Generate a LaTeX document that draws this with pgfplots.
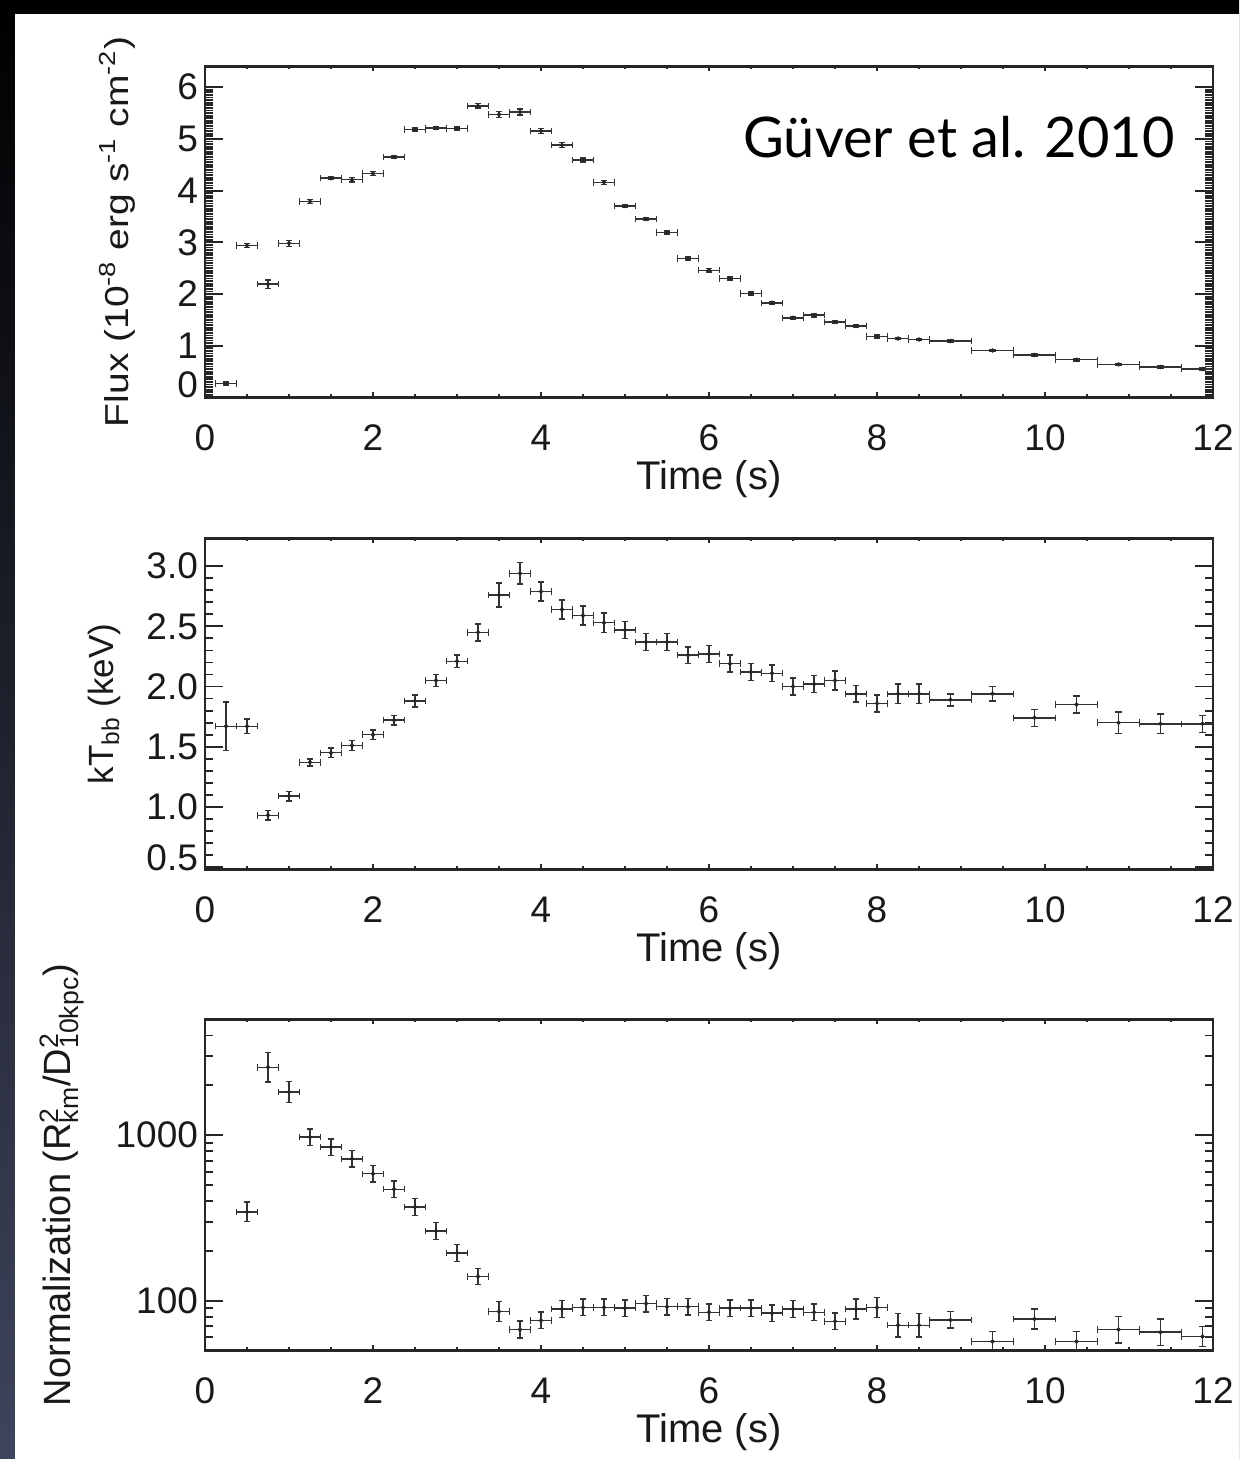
\documentclass[border=0pt]{standalone}
\usepackage{pgfplots}
\pgfplotsset{compat=1.18}
\usepackage{pgfplotstable}
\usepackage{graphicx}
\usepackage{fontspec}
\setmainfont{Liberation Sans}
\newfontfamily\gill{Lato}
\definecolor{slate}{RGB}{62,68,92}

\pgfplotstableread{
t dt v dv
0.25 0.125 0.27 0.03
0.5 0.125 2.94 0.04
0.75 0.125 2.19 0.08
1.0 0.125 2.98 0.06
1.25 0.125 3.79 0.04
1.5 0.125 4.24 0.03
1.75 0.125 4.21 0.04
2.0 0.125 4.33 0.04
2.25 0.125 4.65 0.03
2.5 0.125 5.18 0.03
2.75 0.125 5.21 0.03
3.0 0.125 5.20 0.03
3.25 0.125 5.64 0.04
3.5 0.125 5.47 0.06
3.75 0.125 5.52 0.06
4.0 0.125 5.15 0.05
4.25 0.125 4.88 0.05
4.5 0.125 4.59 0.04
4.75 0.125 4.16 0.04
5.0 0.125 3.70 0.03
5.25 0.125 3.45 0.03
5.5 0.125 3.19 0.03
5.75 0.125 2.69 0.03
6.0 0.125 2.46 0.03
6.25 0.125 2.30 0.03
6.5 0.125 2.01 0.03
6.75 0.125 1.83 0.03
7.0 0.125 1.54 0.03
7.25 0.125 1.59 0.03
7.5 0.125 1.46 0.03
7.75 0.125 1.38 0.03
8.0 0.125 1.18 0.03
8.25 0.125 1.14 0.02
8.5 0.125 1.12 0.02
8.875 0.25 1.09 0.02
9.375 0.25 0.91 0.02
9.875 0.25 0.82 0.02
10.375 0.25 0.73 0.02
10.875 0.25 0.64 0.02
11.375 0.25 0.59 0.02
11.875 0.25 0.55 0.02
}\fluxdata

\pgfplotstableread{
t dt v dv
0.25 0.125 1.67 0.20
0.5 0.125 1.67 0.06
0.75 0.125 0.93 0.04
1.0 0.125 1.09 0.04
1.25 0.125 1.37 0.03
1.5 0.125 1.45 0.04
1.75 0.125 1.51 0.04
2.0 0.125 1.60 0.04
2.25 0.125 1.72 0.04
2.5 0.125 1.88 0.05
2.75 0.125 2.05 0.05
3.0 0.125 2.21 0.05
3.25 0.125 2.45 0.07
3.5 0.125 2.76 0.10
3.75 0.125 2.94 0.09
4.0 0.125 2.79 0.08
4.25 0.125 2.64 0.08
4.5 0.125 2.59 0.08
4.75 0.125 2.53 0.08
5.0 0.125 2.47 0.07
5.25 0.125 2.37 0.07
5.5 0.125 2.37 0.07
5.75 0.125 2.26 0.07
6.0 0.125 2.27 0.07
6.25 0.125 2.19 0.07
6.5 0.125 2.12 0.07
6.75 0.125 2.11 0.07
7.0 0.125 2.00 0.07
7.25 0.125 2.02 0.07
7.5 0.125 2.05 0.08
7.75 0.125 1.94 0.07
8.0 0.125 1.86 0.07
8.25 0.125 1.94 0.08
8.5 0.125 1.94 0.08
8.875 0.25 1.89 0.05
9.375 0.25 1.94 0.06
9.875 0.25 1.74 0.07
10.375 0.25 1.85 0.07
10.875 0.25 1.70 0.09
11.375 0.25 1.69 0.08
11.875 0.25 1.69 0.07
}\ktdata

\pgfplotstableread{
t dt v ep em
0.5 0.125 344 51 44
0.75 0.125 2570 592 480
1.0 0.125 1824 285 246
1.25 0.125 973 119 106
1.5 0.125 847 103 92
1.75 0.125 720 88 78
2.0 0.125 585 71 64
2.25 0.125 471 57 51
2.5 0.125 368 45 40
2.75 0.125 264 32 29
3.0 0.125 194 24 21
3.25 0.125 140 17 15
3.5 0.125 86 12.7 11.1
3.75 0.125 67 8.2 7.3
4.0 0.125 76 9.3 8.3
4.25 0.125 89 10.9 9.7
4.5 0.125 91 11.1 9.9
4.75 0.125 91 11.1 9.9
5.0 0.125 90 11 9.8
5.25 0.125 96 11.7 10.5
5.5 0.125 92 11.2 10
5.75 0.125 92 11.2 10
6.0 0.125 85 10.4 9.3
6.25 0.125 90 11 9.8
6.5 0.125 90 11 9.8
6.75 0.125 84 10.2 9.2
7.0 0.125 89 10.9 9.7
7.25 0.125 85 10.4 9.3
7.5 0.125 75 9.2 8.2
7.75 0.125 89 13.1 11.5
8.0 0.125 91 13.4 11.7
8.25 0.125 71 12.4 10.6
8.5 0.125 71 12.4 10.6
8.875 0.25 76.5 9.3 8.3
9.375 0.25 56.6 8.3 7.3
9.875 0.25 77.6 11.4 10
10.375 0.25 56.6 8.3 7.3
10.875 0.25 66.9 13.5 11.3
11.375 0.25 64.5 13 10.9
11.875 0.25 60.7 8.9 7.9
}\normdata

\pgfplotsset{
  panel/.style={scale only axis, width=504pt, height=165.5pt,
    xmin=0, xmax=12, anchor=south west,
    axis line style={line width=1.4pt, black!85},
    every tick/.style={line width=0.9pt, black!85}},
  panelY/.style={panel, xtick=\empty,
    major tick length=9pt, minor tick length=4pt,
    yticklabel style={font=\fontsize{18.5}{20}\selectfont, black!90},
    ylabel style={font=\fontsize{17.5}{19}\selectfont, black!90, anchor=base}},
  panelX/.style={panel, ymin=0, ymax=1, ytick=\empty,
    xtick={0,2,...,12}, xticklabels={0,2,4,6,8,10,12}, minor x tick num=3,
    major tick length=2.5pt, minor tick length=1.5pt,
    xticklabel style={font=\fontsize{18.5}{20}\selectfont, black!90, anchor=center, yshift=-20pt},
    xlabel={Time (s)},
    xlabel style={font=\fontsize{20}{22}\selectfont, black!90, at={(axis description cs:0.5,0)}, anchor=center, yshift=-41pt}},
  eb/.style={only marks, mark=*, mark size=0.9pt, black!85,
    error bars/.cd, x dir=both, x explicit, y dir=both, y explicit,
    error bar style={line width=0.75pt, black!80},
    error mark options={rotate=90, mark size=1.6pt, line width=0.75pt, black!80}},
}

\begin{document}
\begin{tikzpicture}
\shade[top color=black, bottom color=slate] (0pt,0pt) rectangle (619.5pt,729.5pt);
\fill[white] (7.5pt,0pt) rectangle (619.5pt,722.5pt);

% ---------- Panel 1: Flux ----------
\begin{axis}[panelY, at={(102.5pt,530.75pt)},
  ymin=0, ymax=6.4, ytick={0,1,...,6}, yticklabels={\raisebox{13pt}{0},1,2,3,4,5,6},
  minor y tick num=19,
  ylabel={\scalebox{1}[0.85]{Flux (10\textsuperscript{-8} erg s\textsuperscript{-1} cm\textsuperscript{-2})}},
  ylabel style={font=\fontsize{19.5}{21}\selectfont, at={(axis description cs:-0.076,0.5)}}]
\addplot[eb] table[x=t, y=v, x error=dt, y error=dv] {\fluxdata};
\end{axis}
\begin{axis}[panelX, at={(102.5pt,530.75pt)}]
\end{axis}
\node[font=\gill\fontsize{28}{30}\selectfont, anchor=base east, inner sep=0pt] at (587.5pt,650.5pt) {Güver et al. 2010};

% ---------- Panel 2: kT ----------
\begin{axis}[panelY, at={(102.5pt,294.75pt)},
  ymin=0.48, ymax=3.23, ytick={0.5,1.0,...,3.0}, yticklabels={\raisebox{9pt}{0.5},1.0,1.5,2.0,2.5,3.0},
  minor y tick num=4,
  ylabel={kT\textsubscript{bb} (keV)},
  ylabel style={at={(axis description cs:-0.091,0.5)}}]
\addplot[eb] table[x=t, y=v, x error=dt, y error=dv] {\ktdata};
\end{axis}
\begin{axis}[panelX, at={(102.5pt,294.75pt)}]
\end{axis}

% ---------- Panel 3: Normalization ----------
\begin{axis}[panelY, at={(102.5pt,54.25pt)}, ymode=log,
  ymin=50, ymax=5000, ytick={100,1000}, yticklabels={100,1000},
  minor ytick={60,70,80,90,200,300,400,500,600,700,800,900,2000,3000,4000},
  ylabel={Normalization (R\rlap{\textsuperscript{2}}\textsubscript{km}/D\rlap{\textsuperscript{2}}\textsubscript{10kpc})},
  ylabel style={font=\fontsize{19}{21}\selectfont, at={(axis description cs:-0.133,0.5)}}]
\addplot[eb] table[x=t, y=v, x error=dt, y error plus=ep, y error minus=em] {\normdata};
\end{axis}
\begin{axis}[panelX, at={(102.5pt,54.25pt)}]
\end{axis}
\end{tikzpicture}
\end{document}
